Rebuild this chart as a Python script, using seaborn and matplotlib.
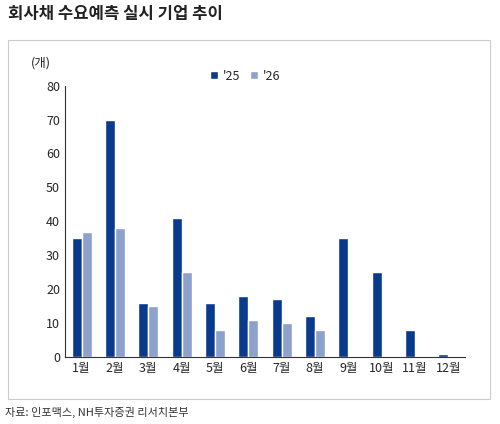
import matplotlib
matplotlib.use("Agg")
import matplotlib.pyplot as plt
import seaborn as sns
import pandas as pd
from matplotlib.patches import Rectangle

months = ["1월","2월","3월","4월","5월","6월","7월","8월","9월","10월","11월","12월"]
v25 = [35,70,16,41,16,18,17,12,35,25,8,1]
v26 = [37,38,15,25,8,11,10,8,None,None,None,None]

sns.set_style("white")
plt.rcParams['font.family'] = ['Noto Sans CJK KR', 'DejaVu Sans']

df = pd.DataFrame({"month": months*2, "val": v25+v26,
                   "series": ["'25"]*12 + ["'26"]*12})

fig = plt.figure(figsize=(5, 4.24), dpi=100)
ax = fig.add_axes([0.13, 0.158, 0.8, 0.64])
sns.barplot(data=df, x="month", y="val", hue="series",
            palette=["#0a3a8c", "#8ea0cc"], width=0.6, gap=0, ax=ax, saturation=1)
ax.set_ylim(0, 80)
ax.set_yticks(range(0, 81, 10))
ax.set_xlabel(""); ax.set_ylabel("")
ax.tick_params(labelsize=9, length=0)
for s in ["top", "right"]:
    ax.spines[s].set_visible(False)
for s in ["left", "bottom"]:
    ax.spines[s].set_color("#333333"); ax.spines[s].set_linewidth(0.8)
leg = ax.legend(loc="upper center", bbox_to_anchor=(0.45, 1.1), ncol=2, frameon=False,
                fontsize=9, handlelength=0.6, handleheight=0.6, columnspacing=0.8, handletextpad=0.4)
ax.text(-0.06, 1.07, "(개)", transform=ax.transAxes, fontsize=9, ha="center")

fig.text(0.015, 0.955, "회사채 수요예측 실시 기업 추이", fontsize=12, fontweight="bold", color="#222222")
fig.patches.append(Rectangle((0.015, 0.06), 0.965, 0.845, transform=fig.transFigure,
                             fill=False, edgecolor="#cccccc", linewidth=0.8))
fig.text(0.01, 0.02, "자료: 인포맥스, NH투자증권 리서치본부", fontsize=8, color="#333333")
fig.savefig("out.png", dpi=100)
